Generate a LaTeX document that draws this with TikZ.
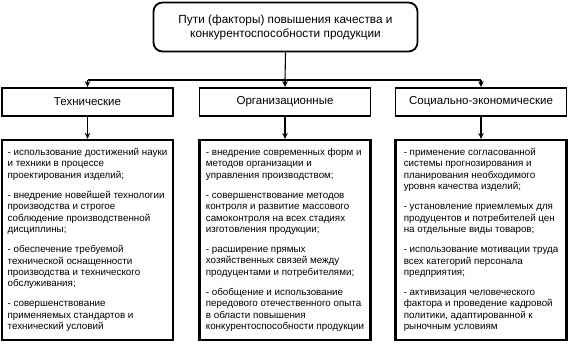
\documentclass[tikz,border=0pt]{standalone}
\usepackage{fontspec}
\setmainfont{Liberation Sans}
\usetikzlibrary{arrows.meta}
\begin{document}
\begin{tikzpicture}[
    x=1pt,
    y=-1pt,
    >={Stealth[length=6pt,width=5.5pt]},
    glavnyi/.style={
        draw,
        rounded corners=9pt,
        line width=1.8pt,
        minimum width=264pt,
        minimum height=49pt,
        align=center,
        font=\fontsize{11.8}{14}\selectfont
    },
    gruppa/.style={
        draw,
        line width=1.9pt,
        minimum width=171pt,
        minimum height=28pt,
        align=center,
        font=\fontsize{11.5}{13}\selectfont
    },
    spisok/.style={
        draw,
        line width=2.2pt,
        minimum width=171pt,
        minimum height=200pt,
        inner xsep=1.5pt,
        align=left,
        font=\fontsize{9.8}{11.3}\selectfont
    }
]
    \useasboundingbox (0,0) rectangle (569,349);

    \node[glavnyi] (puti) at (285.5,27)
        {Пути (факторы) повышения качества и\\
         конкурентоспособности продукции};

    \node[gruppa] (tehn) at (87.5,102) {Технические};
    \node[gruppa] (org) at (285,102) {Организационные};
    \node[gruppa] (soc) at (481,102) {Социально-экономические};

    \coordinate (razv-t) at (87.5,80);
    \coordinate (razv-o) at (285,80);
    \coordinate (razv-s) at (481,80);

    \draw[line width=1.1pt] (razv-t) -- (razv-s);
    \draw[line width=1.1pt] (puti.south) -- (razv-o);
    \draw[->,line width=1.1pt] (razv-t) -- (tehn);
    \draw[->,line width=1.1pt] (razv-o) -- (org);
    \draw[->,line width=1.1pt] (razv-s) -- (soc);

    \node[spisok] (spisok-t) at (87.5,240)
        {- использование достижений науки\\
         и техники в процессе\\
         проектирования изделий;\\[9pt]
         - внедрение новейшей технологии\\
         производства и строгое\\
         соблюдение производственной\\
         дисциплины;\\[9pt]
         - обеспечение требуемой\\
         технической оснащенности\\
         производства и технического\\
         обслуживания;\\[9pt]
         - совершенствование\\
         применяемых стандартов и\\
         технический условий};
    \node[spisok] (spisok-o) at (285,240)
        {- внедрение современных форм и\\
         методов организации и\\
         управления производством;\\[9pt]
         - совершенствование методов\\
         контроля и развитие массового\\
         самоконтроля на всех стадиях\\
         изготовления продукции;\\[9pt]
         - расширение прямых\\
         хозяйственных связей между\\
         продуцентами и потребителями;\\[9pt]
         - обобщение и использование\\
         передового отечественного опыта\\
         в области повышения\\
         конкурентоспособности продукции};
    \node[spisok] (spisok-s) at (481,240)
        {- применение согласованной\\
         системы прогнозирования и\\
         планирования необходимого\\
         уровня качества изделий;\\[9pt]
         - установление приемлемых для\\
         продуцентов и потребителей цен\\
         на отдельные виды товаров;\\[9pt]
         - использование мотивации труда\\
         всех категорий персонала\\
         предприятия;\\[9pt]
         - активизация человеческого\\
         фактора и проведение кадровой\\
         политики, адаптированной к\\
         рыночным условиям};

    \draw[->,line width=1.1pt] (tehn) -- (spisok-t);
    \draw[->,line width=1.1pt] (org) -- (spisok-o);
    \draw[->,line width=1.1pt] (soc) -- (spisok-s);
\end{tikzpicture}
\end{document}
